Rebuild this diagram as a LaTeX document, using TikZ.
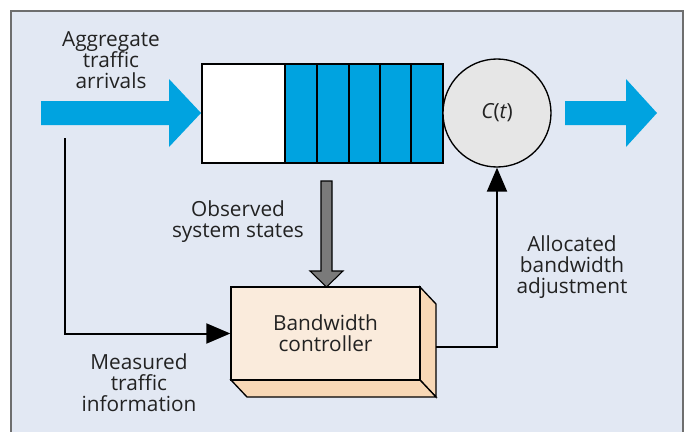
\documentclass[tikz,border=0pt]{standalone}
\usepackage{fontspec}
\setmainfont{Open Sans}
\usetikzlibrary{arrows.meta}
\definecolor{bg}{HTML}{E2E8F3}
\definecolor{qblue}{HTML}{00A3E0}
\definecolor{srvgray}{HTML}{E6E6E6}
\definecolor{boxfront}{HTML}{FAEBDC}
\definecolor{boxside}{HTML}{F8D8B6}
\definecolor{framegray}{HTML}{6E6E6E}
\definecolor{arrgray}{HTML}{7A7A7A}
\definecolor{txt}{HTML}{222222}
\begin{document}
\begin{tikzpicture}[x=0.75pt,y=-0.75pt,
  lbl/.style={align=center, font=\fontsize{15.6}{15.8}\selectfont, inner sep=0pt, text=txt},
  link/.style={line width=1.5pt, -{Triangle[length=18pt,width=15pt]}},
  cell/.style={draw=black, line width=1pt, fill=qblue},
  bigarrow/.style={fill=qblue},
]
\useasboundingbox (0,0) rectangle (686,432);
\fill[white] (0,0) rectangle (686,432);
% frame
\draw[framegray, line width=1pt, fill=bg] (11,11) rectangle (683,450);

% blue input / output arrows
\fill[bigarrow] (41,101) -- (169,101) -- (169,79) -- (201,113) -- (169,147) -- (169,125) -- (41,125) -- cycle;
\fill[bigarrow] (565,101) -- (626,101) -- (626,79) -- (657,113) -- (626,147) -- (626,125) -- (565,125) -- cycle;

% queue
\draw[line width=1pt, fill=white] (202,64) rectangle (285,163);
\foreach \a/\b in {285/317, 317/349, 349/380, 380/411, 411/443}
  \draw[cell] (\a,64) rectangle (\b,163);

% server
\node[circle, draw=black, line width=1pt, fill=srvgray, minimum size=81pt, inner sep=0pt,
      font=\fontsize{15.6}{16}\selectfont, text=txt] (srv) at (497,113) {\itshape C\upshape(\itshape t\upshape)};

% controller box with 3D sides
\fill[boxside, draw=black, line width=1pt] (420,287) -- (436,304) -- (436,397) -- (420,380) -- cycle;
\fill[boxside, draw=black, line width=1pt] (231,380) -- (420,380) -- (436,397) -- (247,397) -- cycle;
\node[draw=black, line width=1pt, fill=boxfront, minimum width=141.75pt, minimum height=69.75pt,
      inner sep=0pt, lbl] (ctrl) at (325.5,333.5) {Bandwidth\\controller};

% gray observation arrow
\filldraw[fill=arrgray, draw=black, line width=0.8pt]
  (321,181) -- (332,181) -- (332,271) -- (343,271) -- (326.5,287) -- (310,271) -- (321,271) -- cycle;

% connectors
\coordinate (meas0) at (65,138);
\coordinate (cout) at (436,347);
\draw[link] (meas0) |- (ctrl.west);
\draw[link] (cout) -| (srv.south);

% labels
\node[lbl] (agg) at (111,60) {Aggregate\\traffic\\arrivals};
\node[lbl] (obs) at (238,222) {Observed\\system states};
\node[lbl] (alloc) at (572,267) {Allocated\\bandwidth\\adjustment};
\node[lbl] (meas) at (139,383) {Measured\\traffic\\information};
\end{tikzpicture}
\end{document}
